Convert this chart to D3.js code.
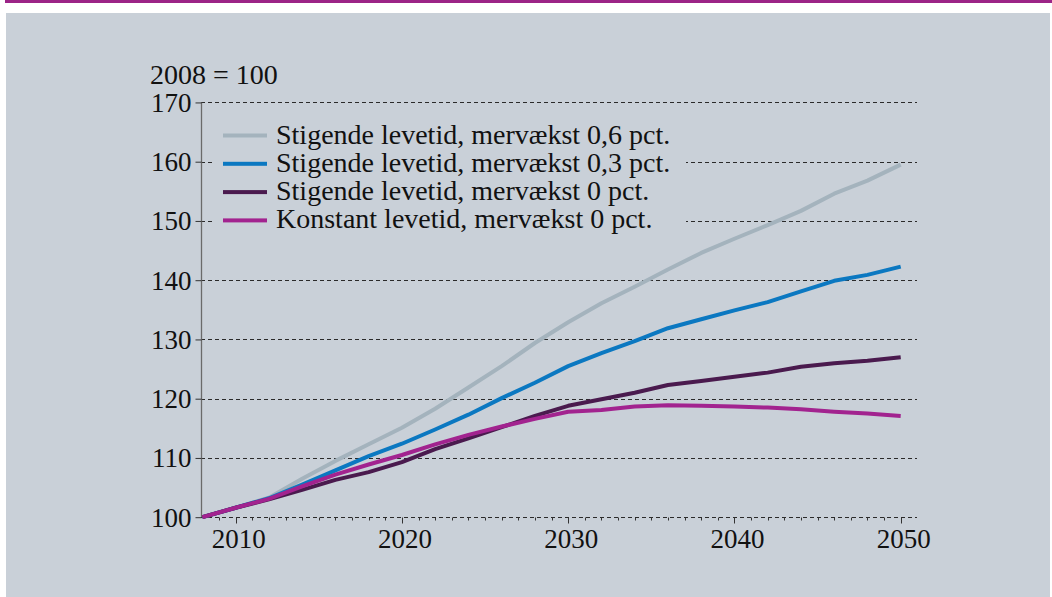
<!DOCTYPE html>
<html>
<head>
<meta charset="utf-8">
<script src="https://cdn.jsdelivr.net/npm/d3@7"></script>
<style>
  body { margin: 0; background: #fff; }
</style>
</head>
<body>
<script>
var years = [2008, 2010, 2012, 2014, 2016, 2018, 2020, 2022, 2024, 2026, 2028, 2030,
             2032, 2034, 2036, 2038, 2040, 2042, 2044, 2046, 2048, 2050];

var stig06 = [100, 101.6, 103.3, 106.5, 109.5, 112.3, 115.1, 118.3, 121.9, 125.5, 129.4, 132.9,
              136.1, 138.9, 141.8, 144.6, 147.0, 149.3, 151.7, 154.6, 156.8, 159.5];
var stig03 = [100, 101.6, 103.2, 105.5, 107.9, 110.3, 112.4, 114.8, 117.3, 120.1, 122.7, 125.5,
              127.7, 129.7, 131.9, 133.4, 134.9, 136.3, 138.1, 139.9, 140.9, 142.3];
var stig0 = [100, 101.6, 103.0, 104.6, 106.3, 107.6, 109.3, 111.5, 113.3, 115.2, 117.1, 118.8,
             119.9, 121.0, 122.3, 123.0, 123.7, 124.4, 125.4, 126.0, 126.4, 127.0];
var konst0 = [100, 101.6, 103.1, 105.2, 107.2, 108.9, 110.5, 112.3, 113.9, 115.3, 116.6, 117.8,
              118.1, 118.7, 118.9, 118.8, 118.7, 118.5, 118.2, 117.8, 117.5, 117.1];

var seriesNames = ["Stigende levetid, mervækst 0,6 pct.",
                   "Stigende levetid, mervækst 0,3 pct.",
                   "Stigende levetid, mervækst 0 pct.",
                   "Konstant levetid, mervækst 0 pct."];
var seriesColors = ["#a4b3bd", "#0b78c1", "#4a1a4e", "#a2238f"];

var yTicks = [100, 110, 120, 130, 140, 150, 160, 170];
var xTicks = [2010, 2020, 2030, 2040, 2050];
var unitLabel = "2008 = 100";

var allSeries = [stig06, stig03, stig0, konst0];

var width = 1052, height = 597;
var serif = "'Liberation Serif', 'Times New Roman', Times, serif";
var panel = "#c9d0d8";

var svg = d3.select("body").append("svg").attr("width", width).attr("height", height);

// frame: purple top rule and grey panel
svg.append("rect").attr("x", 5).attr("y", 0).attr("width", width - 5).attr("height", 3).attr("fill", "#9c2487");
svg.append("rect").attr("x", 6).attr("y", 13).attr("width", width - 8).attr("height", height - 13).attr("fill", panel);

var x = d3.scaleLinear().domain([2008, 2050]).range([202.4, 900.7]);
var y = d3.scaleLinear().domain([100, 170]).range([517.2, 102.45]);
var gridRight = 917;

// grid lines
svg.append("g").selectAll("line").data(yTicks).enter().append("line")
    .attr("x1", 201).attr("x2", gridRight)
    .attr("y1", function (d) { return Math.round(y(d)) + 0.5; })
    .attr("y2", function (d) { return Math.round(y(d)) + 0.5; })
    .attr("stroke", "#2a2a2a").attr("stroke-width", 1).attr("stroke-dasharray", "4,3");

// legend box hides the grid behind it
svg.append("rect").attr("x", 212).attr("y", 112).attr("width", 474).attr("height", 125).attr("fill", panel);

// y axis
var yAxis = d3.axisLeft(y).tickValues(yTicks).tickSize(6).tickPadding(4);
var yg = svg.append("g").attr("transform", "translate(201.5,0)").call(yAxis);
yg.attr("font-family", null).attr("font-size", null);
yg.select(".domain").attr("stroke", "#6a6a6a").attr("stroke-width", 1.3)
    .attr("d", "M0," + y(170) + "V" + y(100));
yg.selectAll(".tick line").attr("stroke", "#333");
yg.selectAll(".tick text").style("font-size", "27px").attr("fill", "#111").attr("dy", "0.33em");

// x axis: minor ticks each year, longer at decades
var xg = svg.append("g").attr("transform", "translate(0," + (Math.round(y(100)) + 0.5) + ")");
xg.selectAll("line.minor").data(d3.range(2009, 2051)).enter().append("line")
    .attr("x1", function (d) { return Math.round(x(d)) + 0.5; })
    .attr("x2", function (d) { return Math.round(x(d)) + 0.5; })
    .attr("y1", 0).attr("y2", function (d) { return d % 10 === 0 ? 6 : 3; })
    .attr("stroke", "#333").attr("stroke-width", 1);
xg.selectAll("text").data(xTicks).enter().append("text")
    .attr("x", function (d) { return x(d) + 3; })
    .attr("y", 30)
    .attr("text-anchor", "middle")
    .style("font-size", "27px")
    .text(function (d) { return d; });

// unit label
svg.append("text").attr("x", 150).attr("y", 84).style("font-size", "28px").text(unitLabel);

// lines
var line = d3.line()
    .x(function (d, i) { return x(years[i]); })
    .y(function (d) { return y(d); });

svg.append("g").selectAll("path").data(allSeries).enter().append("path")
    .attr("d", line)
    .attr("fill", "none")
    .attr("stroke", function (d, i) { return seriesColors[i]; })
    .attr("stroke-width", 4)
    .attr("stroke-linejoin", "round");

// legend
var leg = svg.append("g").selectAll("g").data(seriesNames).enter().append("g")
    .attr("transform", function (d, i) { return "translate(223," + (135.5 + i * 28.3) + ")"; });
leg.append("rect").attr("x", 0).attr("y", -2).attr("width", 44).attr("height", 4)
    .attr("fill", function (d, i) { return seriesColors[i]; });
leg.append("text").attr("x", 53).attr("y", 8).style("font-size", "28px")
    .text(function (d) { return d; });

svg.selectAll("text").style("font-family", serif).style("fill", "#111");
</script>
</body>
</html>
